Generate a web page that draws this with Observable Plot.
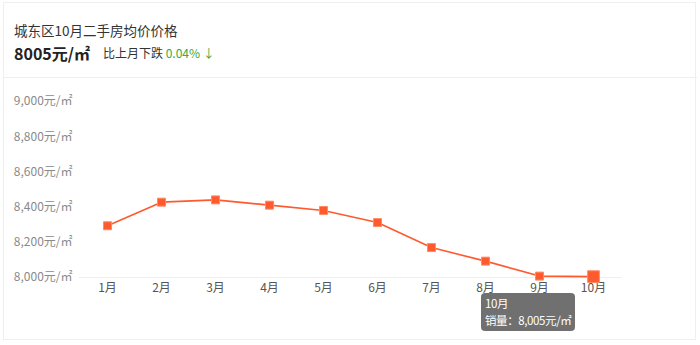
<!DOCTYPE html>
<html>
<head>
<meta charset="utf-8">
<script src="https://cdn.jsdelivr.net/npm/d3@7"></script>
<script src="https://cdn.jsdelivr.net/npm/@observablehq/plot@0.6"></script>
<style>
  html, body { margin: 0; padding: 0; background: #fff; }
  body { width: 700px; height: 345px; position: relative; overflow: hidden;
         font-family: "Noto Sans CJK SC", "Noto Sans", sans-serif; }
  .card { position: absolute; left: 3px; top: 2px; width: 693px; height: 338px;
          border: 1px solid #efefef; box-sizing: border-box; }
  .sep { position: absolute; left: 3px; top: 77px; width: 694px; height: 1px; background: #efefef; }
  .title { position: absolute; left: 14px; top: 20px; font-size: 13.5px; color: #333; line-height: 20px; white-space: nowrap; }
  .price { position: absolute; left: 14px; top: 42px; font-size: 16px; font-weight: bold; color: #222; line-height: 22px; white-space: nowrap; }
  .change { position: absolute; left: 103px; top: 44px; font-size: 12px; color: #333; line-height: 18px; white-space: nowrap; }
  .change .g { color: #3aaa3a; }
  #chart { position: absolute; left: 0; top: 80px; }
  .tip { position: absolute; left: 481px; top: 293px; height: 38px; background: #707070;
         border-radius: 4px; color: #fff; font-size: 11.5px; letter-spacing: -0.4px; line-height: 17px; padding: 2px 4px 0 4px; box-sizing: border-box; white-space: nowrap; }
</style>
</head>
<body>
<div class="card"></div>
<div class="sep"></div>
<div class="title">城东区10月二手房均价价格</div>
<div class="price">8005元/㎡</div>
<div class="change">比上月下跌 <span class="g">0.04% ↓</span></div>
<div id="chart"></div>
<div class="tip">10月<br>销量：8,005元/㎡</div>
<script>
const months = ["1月","2月","3月","4月","5月","6月","7月","8月","9月","10月"];
const prices = [8294, 8428, 8441, 8411, 8381, 8312, 8170, 8093, 8008, 8005];
const yTicks = [8000, 8200, 8400, 8600, 8800, 9000];
const highlighted = "10月";

const data = months.map((m, i) => ({month: m, price: prices[i]}));
const lineColor = "#ff5a2d";

const chart = Plot.plot({
  width: 700,
  height: 265,
  marginLeft: 79,
  marginRight: 79,
  marginTop: 21,
  marginBottom: 68,
  style: {fontFamily: '"Noto Sans CJK SC", "Noto Sans", sans-serif', fontSize: "12px", background: "transparent"},
  x: {type: "point", domain: months, padding: 0.5, label: null},
  y: {domain: [8000, 9000], label: null},
  marks: [
    Plot.ruleY([8000], {stroke: "#eeeeee", strokeWidth: 1}),
    Plot.axisY({ticks: yTicks, tickSize: 0, tickPadding: 7, tickFormat: d => d3.format(",")(d) + "元/㎡", fill: "#8a8a8a", label: null}),
    Plot.axisX({tickSize: 0, tickPadding: 6, fill: "#555", label: null}),
    Plot.line(data, {x: "month", y: "price", stroke: lineColor, strokeWidth: 1.6}),
    Plot.dot(data.filter(d => d.month !== highlighted), {x: "month", y: "price", symbol: "square", r: 4.5, fill: lineColor, stroke: "#ff8a66", strokeWidth: 1}),
    Plot.dot(data.filter(d => d.month === highlighted), {x: "month", y: "price", symbol: "square", r: 6.6, fill: lineColor, stroke: "#ff8a66", strokeWidth: 1})
  ]
});
document.getElementById("chart").appendChild(chart);
</script>
</body>
</html>
